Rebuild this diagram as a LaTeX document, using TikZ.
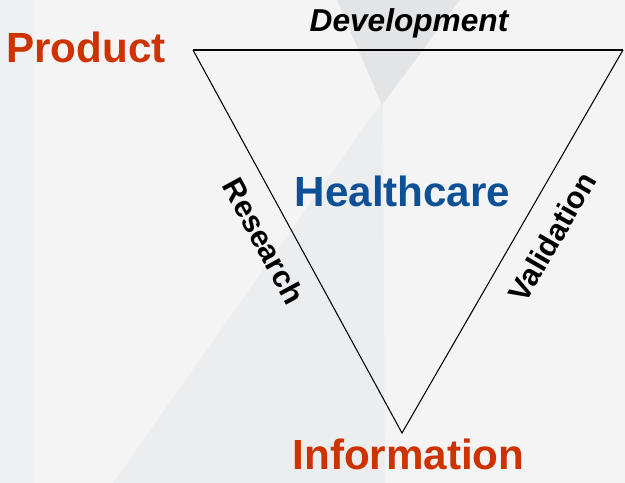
\documentclass[tikz,border=0pt]{standalone}
\usepackage{fontspec}
\setmainfont{Liberation Sans}
\definecolor{prodred}{RGB}{204,51,0}
\definecolor{careblue}{RGB}{14,80,150}
\definecolor{bgbase}{RGB}{244,244,244}
\definecolor{bgstrip}{RGB}{239,240,241}
\definecolor{bgwedge}{RGB}{236,237,239}
\definecolor{bgvee}{RGB}{227,228,230}
\tikzset{
  corner/.style={font=\fontsize{36}{40}\selectfont\bfseries, text=prodred, inner sep=0pt, anchor=base},
  edgelabel/.style={font=\fontsize{26}{30}\selectfont\bfseries, inner sep=0pt},
  edge/.style={black, line width=0.9pt, line join=miter}
}
\begin{document}
\begin{tikzpicture}

% Background with faint diagonal shapes
\fill[bgbase] (0,0) rectangle (18.75,14.49);
\fill[bgstrip] (0,0) rectangle (1.05,14.49);
\fill[bgwedge] (11.49,11.49) -- (3.39,0) -- (11.55,0) -- cycle;
\fill[bgvee] (10.11,14.49) -- (13.8,14.49) -- (11.46,11.34) -- cycle;
\useasboundingbox (0,0) rectangle (18.75,14.49);

% Triangle corners
\coordinate (tl) at (5.79,12.99);
\coordinate (tr) at (18.69,12.99);
\coordinate (bt) at (12.06,1.50);

% Inverted triangle
\draw[edge, line width=1.4pt] (tl) -- (tr);
\draw[edge] (tr) -- (bt) -- (tl);

% Corner labels
\node[corner] (product) at (2.58,12.60) {Product};
\node[corner] (information) at (12.255,0.39) {Information};

% Centre label
\node[corner, text=careblue] (healthcare) at (12.075,8.28) {Healthcare};

% Edge labels
\node[edgelabel, font=\fontsize{27}{30}\selectfont\bfseries\itshape, anchor=base] (development) at (12.27,13.53) {Development};
\node[edgelabel, rotate=-61.4] (research) at (7.92,7.26) {Research};
\node[edgelabel, rotate=60] (validation) at (16.56,7.38) {Validation};

\end{tikzpicture}
\end{document}
